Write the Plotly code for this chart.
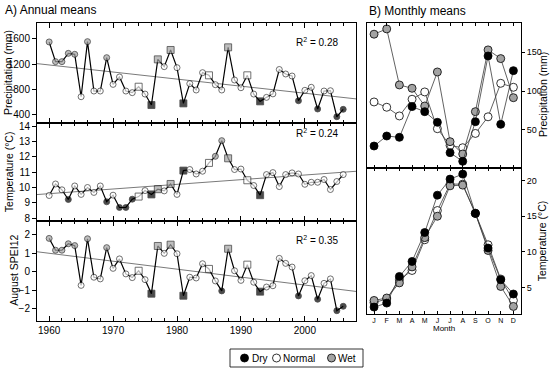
import numpy as np
import plotly.graph_objects as go

# ---------------- data ----------------
years = list(range(1960, 2007))
precip = [1553, 1242, 1242, 1373, 1358, 688, 1558, 778, 778, 1305,
          883, 1000, 778, 752, 846, 730, 557, 1278, 1163, 1426,
          1147, 583, 894, 794, 1068, 1026, 878, 794, 1468, 952,
          830, 1026, 730, 615, 678, 733, 1118, 1047, 1015, 625,
          789, 837, 494, 778, 783, 372, 489]
temp = [9.48, 10.23, 9.85, 9.22, 10.10, 9.55, 10.00, 9.68, 10.10, 9.07,
        9.50, 8.70, 8.70, 9.24, 9.41, 9.80, 9.55, 9.89, 9.78, 10.23,
        9.55, 11.10, 11.17, 10.88, 11.06, 11.60, 12.03, 13.05, 11.90, 11.17,
        11.20, 10.47, 10.13, 9.50, 10.84, 10.97, 10.06, 10.84, 10.95, 10.88,
        10.21, 10.34, 10.34, 10.52, 9.87, 10.39, 10.84]
spei = [1.80, 1.16, 1.16, 1.51, 1.41, -0.74, 1.78, -0.30, -0.39, 1.30,
        0.18, 0.69, -0.12, -0.32, 0.05, -0.43, -1.19, 1.39, 0.99, 1.46,
        0.97, -1.30, -0.30, -0.34, 0.43, 0.15, -0.50, -1.04, 1.24, 0.05,
        -0.47, 0.38, -0.57, -1.08, -0.83, -0.76, 0.72, 0.45, 0.25, -1.31,
        -0.49, -0.21, -1.49, -0.63, -0.39, -2.11, -1.87]

square_years = [1974, 1976, 1977, 1979, 1981, 1985, 1988, 1991, 1993]
precip_dry_years = [1976, 1981, 1993, 1999, 2002, 2005, 2006]
precip_wet_years = [1960, 1961, 1962, 1963, 1964, 1966, 1969, 1977, 1979, 1988]
spei_dry_years = [1976, 1981, 1987, 1993, 1999, 2002, 2005, 2006]
spei_wet_years = [1960, 1961, 1962, 1963, 1964, 1966, 1969, 1977, 1979, 1988]
temp_dry_years = [1963, 1969, 1971, 1972, 1973, 1976, 1981, 1993]
temp_wet_years = [1977, 1979, 1986, 1987, 1988]

r2_labels = ["0.28", "0.24", "0.35"]

months = ["J", "F", "M", "A", "M", "J", "J", "A", "S", "O", "N", "D"]
month_num = list(range(1, 13))
mprecip_dry = [29.3, 42.2, 40.5, 80.0, 73.5, 59.8, 20.7, 9.6, 60.6, 145.2, 57.2, 126.3]
mprecip_normal = [86.0, 79.2, 68.0, 89.5, 98.9, 51.6, 30.0, 27.1, 45.5, 66.9, 110.0, 104.9]
mprecip_wet = [173.2, 180.0, 107.9, 103.6, 80.8, 124.6, 34.9, 19.0, 73.5, 153.0, 141.8, 91.5]
mtemp_dry = [2.27, 2.83, 6.56, 8.66, 12.72, 17.95, 20.2, 20.9, 15.4, 10.54, 6.1, 4.1]
mtemp_normal = [2.9, 3.4, 6.1, 7.4, 11.7, 15.8, 19.5, 19.5, 15.4, 11.0, 6.2, 3.2]
mtemp_wet = [3.2, 3.54, 5.66, 7.9, 12.0, 15.0, 19.26, 19.36, 15.4, 10.2, 5.16, 2.36]

# ---------------- styling ----------------
W, H = 550, 370
FONT = "Liberation Sans, Arial, Helvetica, sans-serif"
COL = {"D": "black", "N": "white", "W": "#a3a3a3"}
XR_A = [1958.1, 2008.0]


def px(x):
    return x / W


def py(y):
    return 1 - y / H


def classes(dry, wet):
    return ["D" if y in dry else ("W" if y in wet else "N") for y in years]


fig = go.Figure()

panels = [
    ("x", "y", precip, classes(precip_dry_years, precip_wet_years)),
    ("x2", "y2", temp, classes(temp_dry_years, temp_wet_years)),
    ("x3", "y3", spei, classes(spei_dry_years, spei_wet_years)),
]
for xa, ya, vals, cls in panels:
    slope, icpt = np.polyfit(years, vals, 1)
    xs = np.array(XR_A)
    fig.add_trace(go.Scatter(x=xs, y=slope * xs + icpt, mode="lines",
                             line=dict(color="#7a7a7a", width=1),
                             xaxis=xa, yaxis=ya, showlegend=False, hoverinfo="skip"))
    symbols = ["square" if y in square_years else "circle" for y in years]
    sizes = [7 if y in square_years else 6 for y in years]
    fig.add_trace(go.Scatter(x=years, y=vals, mode="lines+markers",
                             line=dict(color="black", width=1.2),
                             marker=dict(symbol=symbols, size=sizes,
                                         color=[COL[c] for c in cls],
                                         line=dict(color="black", width=0.8)),
                             xaxis=xa, yaxis=ya, showlegend=False))

for ya, series in [("y4", [mprecip_normal, mprecip_wet, mprecip_dry]),
                   ("y5", [mtemp_normal, mtemp_wet, mtemp_dry])]:
    xa = "x4" if ya == "y4" else "x5"
    for vals, c in zip(series, ["N", "W", "D"]):
        fig.add_trace(go.Scatter(x=month_num, y=vals, mode="lines+markers",
                                 line=dict(color="#3a3a3a", width=0.8),
                                 marker=dict(size=8, color=COL[c],
                                             line=dict(color="black", width=0.8)),
                                 xaxis=xa, yaxis=ya, showlegend=False))

# ---------------- axes ----------------
AX_X = [px(37), px(356)]
BX_X = [px(366.7), px(521)]
common = dict(showline=True, linecolor="black", linewidth=1, showgrid=False,
              zeroline=False, tickcolor="black", tickfont=dict(size=10, family=FONT, color="black"))


def xa_A(anchor, labels):
    return dict(common, domain=AX_X, range=XR_A, anchor=anchor, mirror="ticks",
                ticks="inside", ticklen=5, tick0=1960, dtick=10,
                showticklabels=labels,
                minor=dict(ticks="inside", ticklen=3, tick0=1960, dtick=2,
                           tickcolor="black", showgrid=False))


def ya_A(anchor, dom, rng, vals):
    return dict(common, domain=dom, range=rng, anchor=anchor, mirror=True,
                ticks="outside", ticklen=4, tickvals=vals)


def xa_B(anchor, labels):
    d = dict(common, domain=BX_X, range=[0.42, 12.6], anchor=anchor, mirror="ticks",
             ticks="inside", ticklen=3, tickvals=month_num, ticktext=months,
             showticklabels=labels)
    d["tickfont"] = dict(size=7, family=FONT, color="black")
    return d


def ya_B(anchor, dom, rng, vals):
    d = dict(common, domain=dom, range=rng, anchor=anchor, mirror=True, side="right",
             ticks="outside", ticklen=3, tickvals=vals)
    d["tickfont"] = dict(size=9, family=FONT, color="black")
    return d


fig.update_layout(
    xaxis=xa_A("y", False),
    xaxis2=xa_A("y2", False),
    xaxis3=xa_A("y3", True),
    yaxis=ya_A("x", [py(122.5), py(22.7)], [281, 1857], [400, 800, 1200, 1600]),
    yaxis2=ya_A("x2", [py(221), py(122.5)], [7.82, 14.23], [8, 9, 10, 11, 12, 13, 14]),
    yaxis3=ya_A("x3", [py(320.7), py(221)], [-2.65, 2.74], [-2, -1, 0, 1, 2]),
    xaxis4=xa_B("y4", False),
    xaxis5=xa_B("y5", True),
    yaxis4=ya_B("x4", [py(167.7), py(22.7)], [1.4, 188], [50, 100, 150]),
    yaxis5=ya_B("x5", [py(314), py(167.7)], [1.3, 21.8], [5, 10, 15, 20]),
)

# ---------------- text ----------------
ann = []


def add_text(text, x, y, size, xanchor="center", angle=0):
    ann.append(dict(text=text, x=px(x), y=py(y), xref="paper", yref="paper",
                    xanchor=xanchor, yanchor="middle", showarrow=False, textangle=angle,
                    font=dict(size=size, family=FONT, color="black")))


add_text("A) Annual means", 2.7, 10, 12, "left")
add_text("B) Monthly means", 366.7, 10.5, 12, "left")
add_text("Precipitation (mm)", 7.5, 72.6, 10.5, angle=-90)
add_text("Temperature (°C)", 8.5, 171.7, 10.5, angle=-90)
add_text("August SPEI12", 14, 270.8, 10.5, angle=-90)
add_text("Precipitation (mm)", 543, 95, 10.5, angle=-90)
add_text("Temperature (°C)", 541.5, 240.8, 10.5, angle=-90)
add_text("Month", 443.8, 328.7, 8)
for lab, yy in zip(r2_labels, [41.7, 133.3, 240]):
    add_text("R<sup>2</sup> = " + lab, 340, yy, 10, "right")

# legend (box, glyphs, labels)
shapes = [dict(type="rect", xref="paper", yref="paper", x0=px(230), x1=px(363),
               y0=py(367), y1=py(349), line=dict(color="black", width=0.8),
               fillcolor="white")]
for cx, key, lab, tx in [(244.5, "D", "Dry", 249.5), (276.5, "N", "Normal", 281),
                         (331.5, "W", "Wet", 336)]:
    r = 4
    shapes.append(dict(type="circle", xref="paper", yref="paper",
                       x0=px(cx - r), x1=px(cx + r), y0=py(358 + r), y1=py(358 - r),
                       fillcolor=COL[key], line=dict(color="black", width=0.8)))
    add_text(lab, tx, 358.5, 10, "left")

fig.update_layout(
    width=W, height=H, margin=dict(l=0, r=0, t=0, b=0), autosize=False,
    template="none", plot_bgcolor="white", paper_bgcolor="white",
    font=dict(family=FONT, color="black"), showlegend=False,
    annotations=ann, shapes=shapes,
)

fig.write_html("out.html", config={"displayModeBar": False},
               post_script="document.body.style.margin='0';document.body.style.overflow='hidden';")
